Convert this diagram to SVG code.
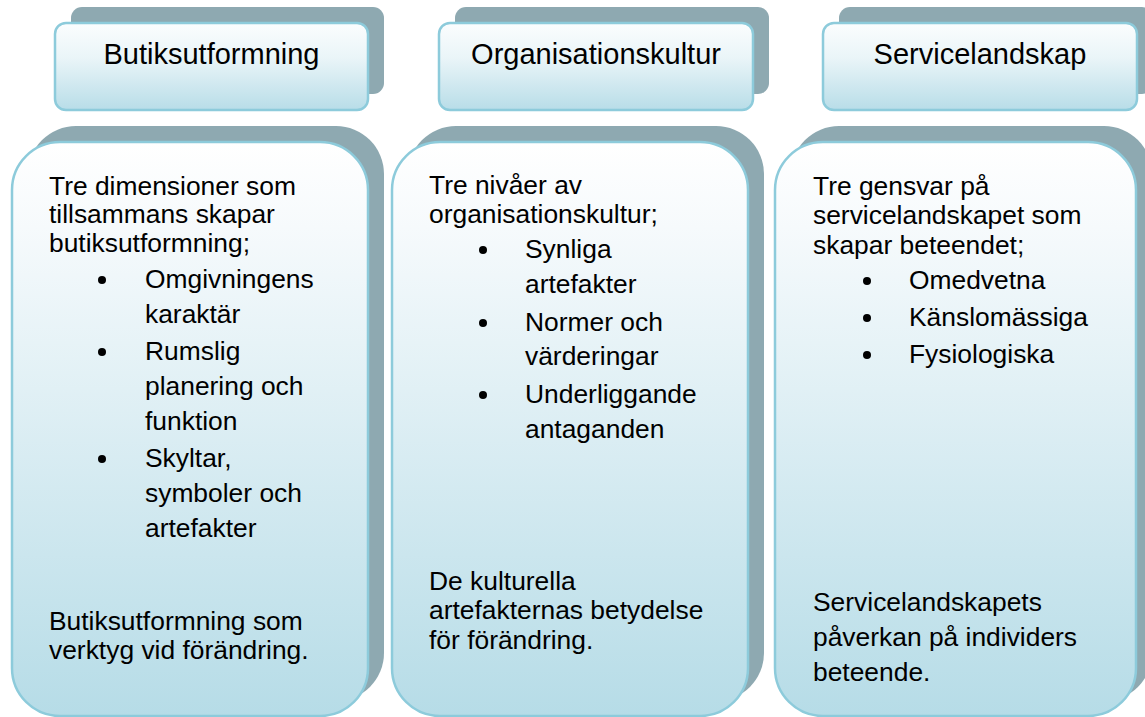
<svg xmlns="http://www.w3.org/2000/svg" width="1145" height="717" viewBox="0 0 1145 717">
  <defs>
    <linearGradient id="headFill" x1="0" y1="0" x2="0" y2="1">
      <stop offset="0" stop-color="#FBFDFE"/>
      <stop offset="0.4" stop-color="#EAF5F8"/>
      <stop offset="1" stop-color="#B8DDE8"/>
    </linearGradient>
    <linearGradient id="cardFill" x1="0" y1="0" x2="0" y2="1">
      <stop offset="0" stop-color="#FFFFFF"/>
      <stop offset="0.15" stop-color="#F6FAFC"/>
      <stop offset="1" stop-color="#B6DCE7"/>
    </linearGradient>
    <style>
      .shadow { fill: #8EA9B1; }
      .head { fill: url(#headFill); stroke: #8DCBDB; stroke-width: 2.5; }
      .card { fill: url(#cardFill); stroke: #8DCBDB; stroke-width: 2.5; }
      .title { font-family: "Liberation Sans", Arial, sans-serif; font-size: 29px; fill: #000; text-anchor: middle; }
      .body { font-family: "Liberation Sans", Arial, sans-serif; font-size: 26.4px; fill: #000; }
      .dot { fill: #000; }
    </style>
  </defs>

  <!-- column 1: Butiksutformning -->
  <g id="header-butiksutformning">
    <rect class="shadow" x="71" y="7" width="313" height="87" rx="11"/>
    <rect class="head" x="55" y="23" width="313" height="87" rx="11"/>
    <text class="title" x="211.5" y="64">Butiksutformning</text>
  </g>
  <g id="card-butiksutformning">
    <rect class="shadow" x="28" y="126" width="356" height="575" rx="48"/>
    <rect class="card" x="12" y="142" width="356" height="574" rx="48"/>
    <text class="body" x="49" y="195">Tre dimensioner som</text>
    <text class="body" x="49" y="223">tillsammans skapar</text>
    <text class="body" x="49" y="252">butiksutformning;</text>
    <circle class="dot" cx="102" cy="280" r="4"/>
    <text class="body" x="145" y="288">Omgivningens</text>
    <text class="body" x="145" y="323">karaktär</text>
    <circle class="dot" cx="102" cy="352" r="4"/>
    <text class="body" x="145" y="360">Rumslig</text>
    <text class="body" x="145" y="395">planering och</text>
    <text class="body" x="145" y="430">funktion</text>
    <circle class="dot" cx="102" cy="459" r="4"/>
    <text class="body" x="145" y="467">Skyltar,</text>
    <text class="body" x="145" y="502">symboler och</text>
    <text class="body" x="145" y="537">artefakter</text>
    <text class="body" x="49" y="630">Butiksutformning som</text>
    <text class="body" x="49" y="659">verktyg vid förändring.</text>
  </g>

  <!-- column 2: Organisationskultur -->
  <g id="header-organisationskultur">
    <rect class="shadow" x="455" y="7" width="314" height="87" rx="11"/>
    <rect class="head" x="439" y="23" width="314" height="87" rx="11"/>
    <text class="title" x="596" y="64">Organisationskultur</text>
  </g>
  <g id="card-organisationskultur">
    <rect class="shadow" x="408" y="126" width="356" height="575" rx="48"/>
    <rect class="card" x="392" y="142" width="356" height="574" rx="48"/>
    <text class="body" x="429" y="194">Tre nivåer av</text>
    <text class="body" x="429" y="223">organisationskultur;</text>
    <circle class="dot" cx="483" cy="250" r="4"/>
    <text class="body" x="525" y="258">Synliga</text>
    <text class="body" x="525" y="293">artefakter</text>
    <circle class="dot" cx="483" cy="323" r="4"/>
    <text class="body" x="525" y="331">Normer och</text>
    <text class="body" x="525" y="365">värderingar</text>
    <circle class="dot" cx="483" cy="395" r="4"/>
    <text class="body" x="525" y="403">Underliggande</text>
    <text class="body" x="525" y="438">antaganden</text>
    <text class="body" x="429" y="590">De kulturella</text>
    <text class="body" x="429" y="619">artefakternas betydelse</text>
    <text class="body" x="429" y="649">för förändring.</text>
  </g>

  <!-- column 3: Servicelandskap -->
  <g id="header-servicelandskap">
    <rect class="shadow" x="839" y="7" width="314" height="87" rx="11"/>
    <rect class="head" x="823" y="23" width="314" height="87" rx="11"/>
    <text class="title" x="980" y="64">Servicelandskap</text>
  </g>
  <g id="card-servicelandskap">
    <rect class="shadow" x="791" y="126" width="361" height="575" rx="48"/>
    <rect class="card" x="775" y="142" width="361" height="574" rx="48"/>
    <text class="body" x="813" y="195">Tre gensvar på</text>
    <text class="body" x="813" y="224">servicelandskapet som</text>
    <text class="body" x="813" y="254">skapar beteendet;</text>
    <circle class="dot" cx="867" cy="281" r="4"/>
    <text class="body" x="909" y="289">Omedvetna</text>
    <circle class="dot" cx="867" cy="318" r="4"/>
    <text class="body" x="909" y="326">Känslomässiga</text>
    <circle class="dot" cx="867" cy="355" r="4"/>
    <text class="body" x="909" y="363">Fysiologiska</text>
    <text class="body" x="813" y="611">Servicelandskapets</text>
    <text class="body" x="813" y="646">påverkan på individers</text>
    <text class="body" x="813" y="681">beteende.</text>
  </g>
</svg>
